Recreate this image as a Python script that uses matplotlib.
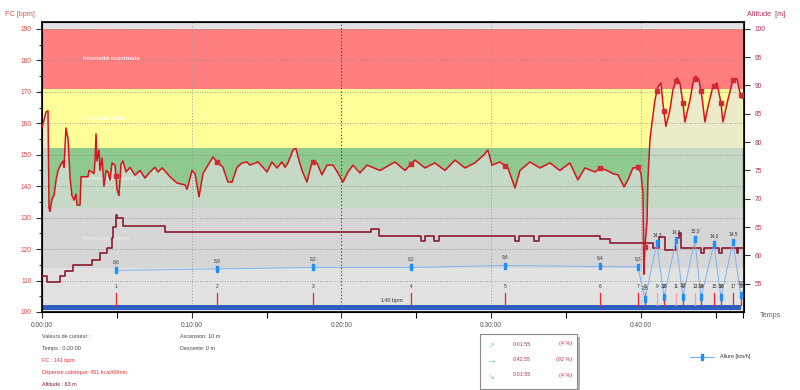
#!/usr/bin/env python3

import numpy as np
import matplotlib
matplotlib.use("Agg")
import matplotlib.pyplot as plt
from matplotlib.patches import Rectangle
from matplotlib.ticker import MultipleLocator, FixedLocator

plt.rcParams["font.family"] = ["Liberation Sans", "DejaVu Sans"]

# heart rate (minutes, bpm)
hr_t = [0.00, 0.27, 0.40, 0.47, 0.53, 0.67, 0.80, 0.94, 1.07, 1.27, 1.40, 1.47, 1.60, 1.74,
        1.87, 2.00, 2.14, 2.27, 2.34, 2.54, 2.61, 3.07, 3.14, 3.34, 3.47, 3.54, 3.61, 3.67,
        3.81, 3.87, 4.01, 4.14, 4.28, 4.41, 4.54, 4.68, 4.88, 5.01, 5.14, 5.28, 5.41, 5.61,
        5.88, 6.21, 6.55, 6.88, 7.21, 7.55, 7.75, 8.02, 8.28, 8.55, 9.02, 9.55, 9.69, 10.02,
        10.22, 10.49, 10.75, 11.42, 11.69, 12.09, 12.42, 12.69, 13.03, 13.36, 13.69, 13.89,
        14.43, 14.76, 15.03, 15.36, 15.70, 16.03, 16.23, 16.43, 16.77, 16.97, 17.10, 17.37,
        17.70, 18.04, 18.37, 18.70, 19.04, 19.44, 19.77, 20.11, 20.44, 20.78, 21.24, 21.71,
        22.58, 23.58, 24.25, 24.92, 25.58, 26.25, 26.92, 27.59, 28.26, 28.92, 29.53, 29.79,
        30.06, 30.59, 31.13, 31.60, 31.93, 32.60, 33.27, 33.93, 34.60, 35.27, 35.80, 36.27,
        36.94, 37.27, 37.74, 38.14, 38.48, 38.88, 39.15, 39.48, 39.81, 40.01, 40.15, 40.21,
        40.28, 40.42, 40.48, 40.62, 40.75, 40.95, 41.15, 41.35, 41.48, 41.68, 41.95, 42.15,
        42.42, 42.62, 42.82, 42.95, 43.29, 43.49, 43.69, 43.89, 44.09, 44.29, 44.49, 44.82,
        45.09, 45.36, 45.49, 45.82, 46.16, 46.43, 46.63, 46.76]
hr_bpm = [158.5, 163.6, 164.0, 133.0, 132.0, 136.0, 137.0, 142.0, 145.0, 147.0, 148.0, 146.0,
          158.5, 155.0, 143.0, 137.0, 135.6, 137.5, 134.0, 134.0, 143.0, 143.0, 145.0, 144.5,
          144.0, 148.0, 156.6, 148.0, 151.5, 145.0, 149.0, 140.0, 145.0, 144.5, 142.0, 147.4,
          146.7, 139.0, 137.0, 147.0, 148.0, 144.5, 146.0, 143.5, 145.0, 142.6, 144.5, 146.0,
          144.5, 145.8, 144.5, 143.0, 141.0, 140.4, 139.0, 145.0, 144.0, 136.6, 144.0, 149.3,
          147.7, 146.0, 141.3, 141.3, 146.0, 147.4, 147.7, 146.7, 147.7, 146.0, 144.5, 147.7,
          145.8, 147.7, 146.0, 147.4, 151.5, 152.0, 149.3, 145.0, 141.3, 147.7, 147.4, 143.6,
          146.7, 146.7, 144.2, 141.3, 144.5, 146.7, 144.2, 146.7, 145.0, 147.7, 145.0, 148.3,
          145.8, 147.4, 145.0, 148.3, 145.8, 147.4, 150.0, 151.5, 146.7, 147.7, 145.8, 139.4,
          145.0, 147.7, 145.8, 147.4, 145.0, 147.4, 142.0, 145.8, 144.5, 145.8, 145.0, 144.0,
          143.6, 139.8, 142.0, 145.8, 146.0, 144.2, 137.8, 112.0, 120.7, 129.0, 142.0, 155.0,
          160.0, 167.4, 171.6, 172.8, 166.5, 159.0, 164.2, 170.6, 174.4, 172.8, 166.5, 160.4,
          167.4, 172.8, 175.0, 173.8, 168.4, 160.4, 165.2, 171.6, 172.8, 166.5, 160.4, 167.4,
          173.8, 174.1, 169.7, 168.0]

# altitude (minutes, m), step changes
alt_t = [0.00, 0.33, 1.20, 1.54, 2.07, 3.34, 3.87, 4.34, 4.68, 4.74, 4.94, 5.01, 5.41, 8.22,
         22.0, 22.5, 25.3, 25.6, 26.2, 26.5, 31.6, 31.9, 32.9, 33.2, 37.3, 37.94, 40.8, 41.25,
         41.6, 42.35, 42.55, 42.7, 44.0, 44.2, 45.25, 45.4, 46.4, 46.5, 46.76]
alt_m = [56.4, 55.3, 56.4, 57.2, 58.3, 59.2, 60.4, 61.3, 63.1, 65.0, 67.1, 66.6, 65.2, 64.1,
         64.7, 63.4, 62.5, 63.4, 62.5, 63.4, 62.5, 63.4, 62.5, 63.4, 62.8, 62.2, 61.3, 63.2,
         61.0, 63.0, 64.0, 61.3, 60.4, 61.3, 60.4, 61.3, 60.4, 61.3, 61.3]

# laps: end time (minutes) and average speed (km/h)
lap_t = [4.94, 11.69, 18.10, 24.65, 30.93, 37.27, 39.81, 40.28, 41.08, 41.55, 42.35, 42.82,
         43.62, 44.02, 44.89, 45.36, 46.16, 46.69]
lap_speed = [8.6, 8.9, 9.2, 9.2, 9.6, 9.4, 9.3, 2.6, 14.3, 3.0, 14.8, 3.2, 15.0, 3.0, 14.0,
             3.0, 14.5, 3.6]
lap_no = [str(i) for i in range(1, 19)]

zone_edges = [114, 133, 152, 171, 190]
zone_names = ["Intensité légère", "Intensité modérée", "Intensité forte", "Intensité maximale"]
zone_colors = ["#bdbdbd", "#8ec98e", "#ffff99", "#ff7f7f"]

x_ticks = [0, 10, 20, 30, 40]
x_labels = ["0:00:00", "0:10:00", "0:20:00", "0:30:00", "0:40:00"]
t_end = 46.9
avg_hr = 140

fig = plt.figure(figsize=(8, 3.9), dpi=100)
ax = fig.add_axes([0.0525, 0.2, 0.8775, 0.7436])
ax.set_facecolor("#e3e3e3")
ax.set_xlim(0, t_end)
ax.set_ylim(100, 192.2)

for lo, hi, name, c in zip(zone_edges[:-1], zone_edges[1:], zone_names, zone_colors):
    ax.axhspan(lo, hi, color=c, lw=0, zorder=0)
    ax.text(2.74, (lo + hi) / 2, name, color="white", fontsize=4.6, fontweight="bold",
            va="center", ha="left", alpha=0.85, zorder=1)

ax.fill_between(hr_t, 100, hr_bpm, color="#e2e2e2", alpha=0.68, lw=0, zorder=1)

for yv in range(110, 191, 10):
    ax.axhline(yv, color="#8a8a8a", lw=0.6, ls=(0, (1, 2)), zorder=2)
for xv in [10, 30, 40]:
    ax.axvline(xv, color="#9a9a9a", lw=0.7, ls=(0, (1, 2)), zorder=2)
ax.axvline(20, color="#333333", lw=0.8, ls=(0, (1, 2)), zorder=2)

# average heart rate bar
ax.add_patch(Rectangle((0, 100.6), lap_t[-1], 1.6, color="#2f5fbf", lw=0, zorder=3))
ax.text(23.4, 103.6, f"{avg_hr} bpm", fontsize=4, color="#333333", ha="center", va="center", zorder=4)

for i, (t, n) in enumerate(zip(lap_t, lap_no)):
    c = "#f4a0a0" if i in (8, 10, 12) else "#e8262a"
    ax.plot([t, t], [102.2, 106.0], color=c, lw=0.9, zorder=3)
    ax.text(t, 108.0, n, fontsize=3.4, color="#333333", ha="center", va="center", zorder=4)

ax.yaxis.set_major_locator(MultipleLocator(10))
ax.yaxis.set_minor_locator(MultipleLocator(5))
ax.xaxis.set_major_locator(FixedLocator(x_ticks))
ax.xaxis.set_minor_locator(FixedLocator([5, 15, 25, 35, 45, t_end - 0.05]))
ax.set_xticklabels(x_labels)
ax.tick_params(axis="y", colors="#d04848", labelsize=4.8, length=4, width=0.8)
ax.tick_params(axis="y", which="minor", length=2.5, width=0.8, color="#333333")
ax.tick_params(axis="y", which="major", color="#333333")
ax.tick_params(axis="x", labelsize=4.8, labelcolor="#555555", length=4, width=0.8, color="#333333")
ax.tick_params(axis="x", which="minor", length=4, width=0.8)
for s in ax.spines.values():
    s.set_linewidth(1.2)
    s.set_color("black")

# altitude, right axis
ax2 = ax.twinx()
ax2.set_ylim(50, 101.2)
ax2.plot(alt_t, alt_m, color="#8b1a2e", lw=1.2, drawstyle="steps-post", zorder=3)
ax2.yaxis.set_major_locator(FixedLocator([55, 60, 65, 70, 75, 80, 85, 90, 95, 100]))
ax2.tick_params(axis="y", colors="#b03060", labelsize=4.8, length=4, width=0.8)
ax2.tick_params(axis="y", which="major", color="#333333")

# speed, hidden axis
ax3 = ax.twinx()
ax3.set_ylim(0, 59.9)
ax3.axis("off")
bar_marker = [(-1, -2.2), (1, -2.2), (1, 2.2), (-1, 2.2), (-1, -2.2)]
ax3.plot(lap_t, lap_speed, color="#7fb2f0", lw=0.7, marker=bar_marker, markersize=4.5,
         markerfacecolor="#1f8fff", markeredgecolor="#1f8fff", zorder=3)
for t, v in zip(lap_t, lap_speed):
    dy = 6 if v > 5 else 8.5
    ax3.annotate(f"{v:.1f}".replace(".", ","), (t, v), xytext=(0, dy), textcoords="offset points",
                 fontsize=3.4, color="#333333", ha="center", va="center")

# heart rate line on top
ax4 = ax.twinx()
ax4.set_ylim(100, 192.2)
ax4.axis("off")
ax4.plot(hr_t, hr_bpm, color="#d7141e", lw=1.1, zorder=5)
lap_hr = np.interp(lap_t, hr_t, hr_bpm)
ax4.plot(lap_t, lap_hr, ls="none", marker="s", markersize=3.2, color="#d42a36", zorder=6)

fig.text(0.006, 0.962, "FC [bpm]", fontsize=5.2, color="#e05555", ha="left", va="center")
fig.text(0.934, 0.962, "Altitude  [m]", fontsize=5.2, color="#b03060", ha="left", va="center")
fig.text(0.95, 0.19, "Temps", fontsize=5.2, color="#666666", ha="left", va="center")

info = [("Valeurs de curseur :", "#444444"), ("Temps : 0:20:00", "#444444"),
        ("FC : 141 bpm", "#e03030"), ("Dépense calorique: 451 kcal/60min", "#e03030"),
        ("Altitude : 63 m", "#8b1a3a")]
for i, (s, c) in enumerate(info):
    fig.text(0.0525, 1 - (337 + 11.8 * i) / 390, s, fontsize=3.9, color=c, ha="left", va="center")
fig.text(0.225, 1 - 337 / 390, "Ascension: 10 m", fontsize=3.9, color="#444444", ha="left", va="center")
fig.text(0.225, 1 - 349 / 390, "Descente: 0 m", fontsize=3.9, color="#444444", ha="left", va="center")

# summary box with shadow
fig.patches.append(Rectangle((0.6 + 3 / 800, 0.0026 - 3 / 390), 0.121, 0.141, transform=fig.transFigure,
                             facecolor="#b0b0b0", edgecolor="none", zorder=1))
fig.patches.append(Rectangle((0.6, 0.0026), 0.121, 0.141, transform=fig.transFigure,
                             facecolor="white", edgecolor="#888888", lw=0.8, zorder=2))
rows = [("\u2197", "0:01:55", "(4 %)"), ("\u2192", "0:42:55", "(92 %)"), ("\u2198", "0:01:55", "(4 %)")]
for i, (arrow, tm, pct) in enumerate(rows):
    yy = 1 - (344 + 15.5 * i) / 390
    fig.text(0.614, yy - 0.004, arrow, fontsize=6, color="#70e0b8", ha="center", va="center",
             family=["DejaVu Sans"])
    fig.text(0.652, yy, tm, fontsize=3.9, color="#b03060", ha="center", va="center")
    fig.text(0.715, yy, pct, fontsize=3.9, color="#b03060", ha="right", va="center")

legend_line = plt.Line2D([0.878, 0.863, 0.893], [0.085, 0.085, 0.085], transform=fig.transFigure,
                         color="#7fb2f0", lw=0.8, marker=bar_marker, markersize=4.5,
                         markevery=[0], markerfacecolor="#1f8fff", markeredgecolor="#1f8fff")
fig.lines.append(legend_line)
fig.text(0.9, 0.085, "Allure [km/h]", fontsize=3.9, color="#333333", ha="left", va="center")

fig.savefig("out.png", dpi=100)
